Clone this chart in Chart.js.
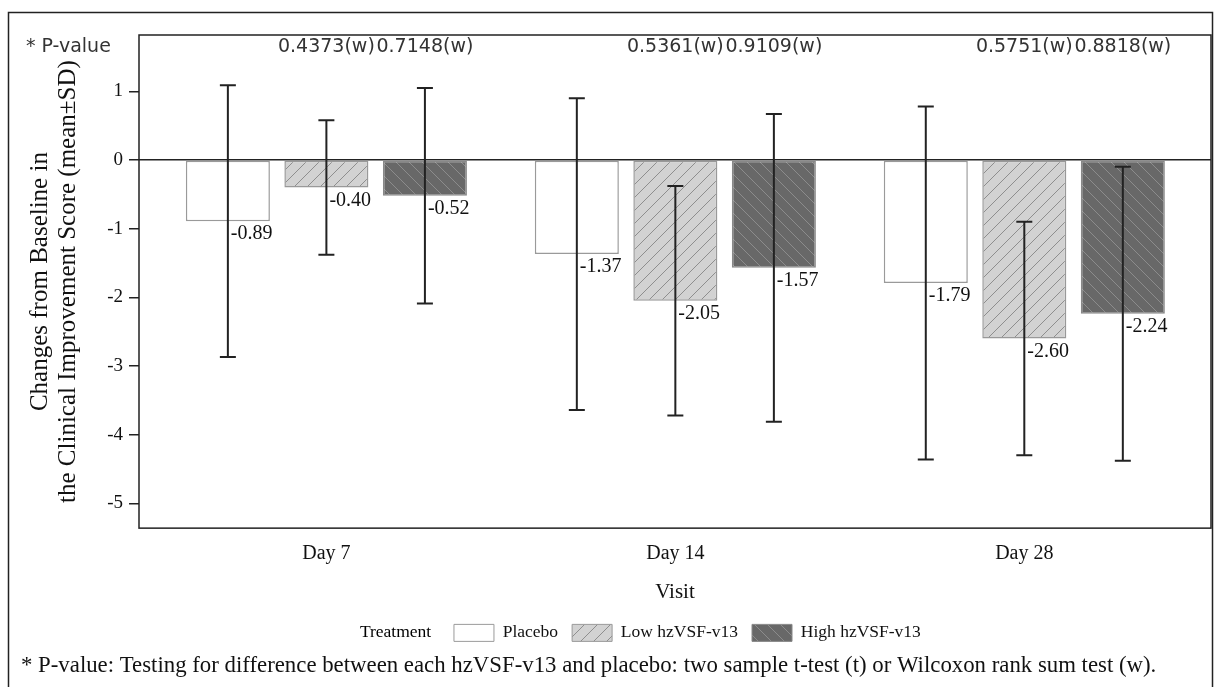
<!DOCTYPE html>
<html>
<head>
<meta charset="utf-8">
<script src="https://cdn.jsdelivr.net/npm/chart.js@4"></script>
<style>
  html, body { margin: 0; padding: 0; background: #fff; }
</style>
</head>
<body>
<canvas id="chart" width="1214" height="687"></canvas>
<script>
// data
const visits = ['Day 7', 'Day 14', 'Day 28'];
const treatments = ['Placebo', 'Low hzVSF-v13', 'High hzVSF-v13'];
const placeboMean = [-0.89, -1.37, -1.79];
const placeboSD = [1.98, 2.27, 2.57];
const lowMean = [-0.40, -2.05, -2.60];
const lowSD = [0.98, 1.67, 1.70];
const highMean = [-0.52, -1.57, -2.24];
const highSD = [1.57, 2.24, 2.14];
const pLow = ['0.4373(w)', '0.5361(w)', '0.5751(w)'];
const pHigh = ['0.7148(w)', '0.9109(w)', '0.8818(w)'];
const yTickStep = 1;

const footnote = '* P-value: Testing for difference between each hzVSF-v13 and placebo: two sample t-test (t) or Wilcoxon rank sum test (w).';

function hatch(bg, line, dir) {
  const s = 13;
  const c = document.createElement('canvas');
  c.width = s; c.height = s;
  const g = c.getContext('2d');
  g.fillStyle = bg;
  g.fillRect(0, 0, s, s);
  g.strokeStyle = line;
  g.lineWidth = 1;
  g.beginPath();
  if (dir > 0) {
    g.moveTo(-1, s + 1); g.lineTo(s + 1, -1);
    g.moveTo(-2, 2); g.lineTo(2, -2);
    g.moveTo(s - 2, s + 2); g.lineTo(s + 2, s - 2);
  } else {
    g.moveTo(-1, -1); g.lineTo(s + 1, s + 1);
    g.moveTo(s - 2, -2); g.lineTo(s + 2, 2);
    g.moveTo(-2, s - 2); g.lineTo(2, s + 2);
  }
  g.stroke();
  return g.createPattern(c, 'repeat');
}

const series = [
  { mean: placeboMean, sd: placeboSD, fill: '#ffffff', border: '#9a9a9a' },
  { mean: lowMean, sd: lowSD, fill: hatch('#d2d2d2', '#8e8e8e', 1), border: '#999999' },
  { mean: highMean, sd: highSD, fill: hatch('#686868', '#8c8c8c', -1), border: '#888888' }
];

Chart.defaults.font.family = "'Liberation Serif', 'Times New Roman', serif";
Chart.defaults.color = '#111';

const frame = {
  id: 'frame',
  beforeDraw(chart) {
    const ctx = chart.ctx;
    ctx.save();
    ctx.fillStyle = '#fff';
    ctx.fillRect(0, 0, chart.width, chart.height);
    ctx.strokeStyle = '#222';
    ctx.lineWidth = 1.5;
    ctx.strokeRect(8.5, 12.5, 1204, 700);
    ctx.restore();
  },
  afterDatasetsDraw(chart) {
    const ctx = chart.ctx;
    const a = chart.chartArea;
    const yScale = chart.scales.y;
    ctx.save();
    // plot box
    ctx.strokeStyle = '#222';
    ctx.lineWidth = 1.5;
    ctx.strokeRect(a.left, a.top, a.right - a.left, a.bottom - a.top);

    // error bars + value labels
    series.forEach((s, di) => {
      const meta = chart.getDatasetMeta(di);
      meta.data.forEach((bar, i) => {
        const yTop = yScale.getPixelForValue(s.mean[i] + s.sd[i]);
        const yBot = yScale.getPixelForValue(s.mean[i] - s.sd[i]);
        ctx.strokeStyle = '#222';
        ctx.lineWidth = 2;
        ctx.beginPath();
        ctx.moveTo(bar.x, yTop); ctx.lineTo(bar.x, yBot);
        ctx.moveTo(bar.x - 8, yTop); ctx.lineTo(bar.x + 8, yTop);
        ctx.moveTo(bar.x - 8, yBot); ctx.lineTo(bar.x + 8, yBot);
        ctx.stroke();
        ctx.fillStyle = '#111';
        ctx.font = "20px 'Liberation Serif', serif";
        ctx.textAlign = 'left';
        ctx.textBaseline = 'middle';
        ctx.fillText(s.mean[i].toFixed(2), bar.x + 3, bar.y + 13);
      });
    });

    // p-values row
    ctx.font = "19px 'DejaVu Sans', sans-serif";
    ctx.fillStyle = '#333';
    ctx.textBaseline = 'middle';
    ctx.textAlign = 'center';
    const lowMeta = chart.getDatasetMeta(1);
    const highMeta = chart.getDatasetMeta(2);
    visits.forEach((v, i) => {
      ctx.fillText(pLow[i], lowMeta.data[i].x, a.top + 12);
      ctx.fillText(pHigh[i], highMeta.data[i].x, a.top + 12);
    });
    ctx.textAlign = 'left';
    ctx.fillText('* P-value', 26, a.top + 12);
    ctx.restore();
  }
};

new Chart(document.getElementById('chart'), {
  type: 'bar',
  data: {
    datasets: series.map((s, di) => ({
      label: treatments[di],
      data: visits.map((v, i) => ({ x: i, y: s.mean[i] })),
      backgroundColor: s.fill,
      borderColor: s.border,
      borderWidth: 1.5,
      borderSkipped: false,
      categoryPercentage: 0.847,
      barPercentage: 0.853
    }))
  },
  options: {
    responsive: false,
    animation: false,
    layout: { padding: { top: 35, left: 21, right: 3, bottom: 0 } },
    scales: {
      x: {
        type: 'linear',
        offset: false,
        min: -0.537,
        max: 2.535,
        afterBuildTicks: scale => { scale.ticks = visits.map((v, i) => ({ value: i })); },
        afterFit: scale => { scale.height = 82; },
        ticks: { callback: v => visits[v], font: { size: 20 }, color: '#111', padding: 14 },
        grid: { display: false, drawTicks: false, offset: false },
        border: { display: false },
        title: { display: true, text: 'Visit', font: { size: 21 }, color: '#111', padding: { top: 0, bottom: 5 } }
      },
      y: {
        min: -5.36,
        max: 1.82,
        afterFit: scale => { scale.width = 118; },
        ticks: { stepSize: yTickStep, includeBounds: false, font: { size: 19 }, color: '#111', padding: 6 },
        grid: {
          color: c => (c.tick && c.tick.value === 0) ? '#222' : 'rgba(0,0,0,0)',
          lineWidth: 1.5,
          tickColor: '#222',
          tickWidth: 1.5,
          tickLength: 10
        },
        border: { display: false },
        title: {
          display: true,
          text: ['Changes from Baseline in', 'the Clinical Improvement Score (mean\u00B1SD)'],
          font: { size: 25, lineHeight: 1.1 },
          color: '#111',
          padding: { top: 6, bottom: 0 }
        }
      }
    },
    plugins: {
      legend: {
        position: 'bottom',
        labels: {
          boxWidth: 40,
          boxHeight: 17,
          padding: 14,
          font: { size: 17.5 },
          color: '#111',
          generateLabels: chart => {
            const items = Chart.defaults.plugins.legend.labels.generateLabels(chart);
            items.forEach(it => { it.lineWidth = 1; });
            return [{ text: 'Treatment  ', fillStyle: 'rgba(0,0,0,0)', strokeStyle: 'rgba(0,0,0,0)', lineWidth: 0, hidden: false, datasetIndex: null }].concat(items);
          }
        }
      },
      title: {
        display: true,
        position: 'bottom',
        align: 'start',
        text: footnote,
        font: { size: 22.8, weight: 'normal' },
        color: '#111',
        padding: { top: 1, bottom: 7 }
      },
      tooltip: { enabled: false }
    }
  },
  plugins: [frame]
});
</script>
</body>
</html>
